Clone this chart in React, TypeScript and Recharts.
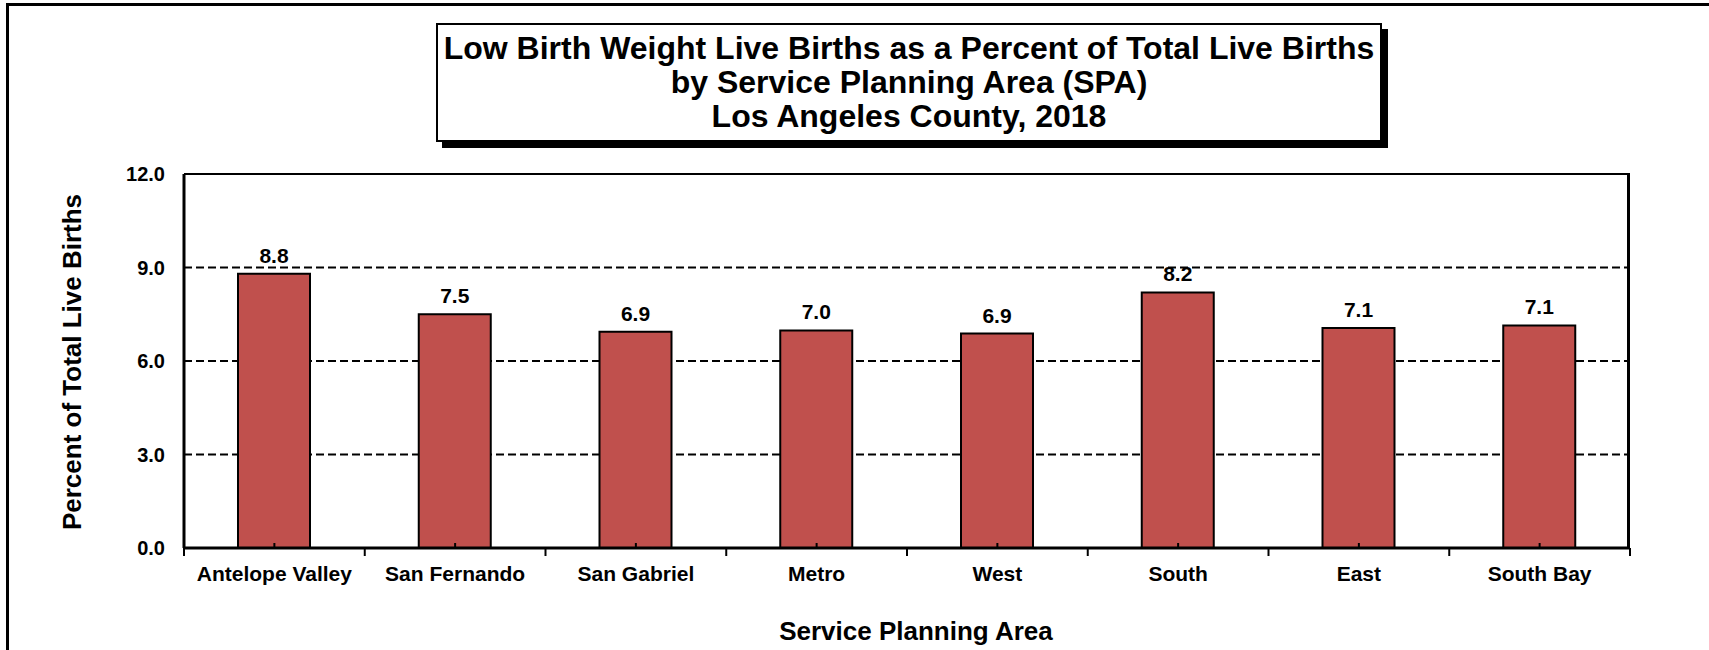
import { BarChart, Bar, XAxis, YAxis, CartesianGrid, LabelList } from "recharts"

const areas = [
  "Antelope Valley",
  "San Fernando",
  "San Gabriel",
  "Metro",
  "West",
  "South",
  "East",
  "South Bay",
]
const percents = [8.8, 7.5, 6.94, 6.98, 6.88, 8.2, 7.06, 7.14]
const yTicks = [0, 3, 6, 9, 12]

const titleLines = [
  "Low Birth Weight Live Births as a Percent of Total Live Births",
  "by Service Planning Area (SPA)",
  "Los Angeles County, 2018",
]

const data = areas.map((area, i) => ({ area, percent: percents[i] }))

const W = 1709
const H = 650
const PLOT = { left: 184, top: 174, right: 1630, bottom: 548 }
const BAND = (PLOT.right - PLOT.left) / areas.length
const FONT = "'Liberation Sans', Arial, sans-serif"

function AreaTick({ x, y, payload, index }: any) {
  const half = BAND / 2
  return (
    <g>
      <line x1={x} x2={x} y1={y} y2={y - 5} stroke="#000" strokeWidth={2} />
      <line x1={x - half} x2={x - half} y1={y} y2={y + 8} stroke="#000" strokeWidth={2} />
      {index === areas.length - 1 && (
        <line x1={x + half} x2={x + half} y1={y} y2={y + 8} stroke="#000" strokeWidth={2} />
      )}
      <text
        x={x}
        y={y + 33}
        textAnchor="middle"
        fill="#000"
        fontFamily={FONT}
        fontWeight="bold"
        fontSize={21}
      >
        {payload.value}
      </text>
    </g>
  )
}

export default function App() {
  return (
    <div
      style={{
        position: "relative",
        width: W,
        height: H,
        overflow: "hidden",
        background: "#fff",
        fontFamily: FONT,
      }}
    >
      <style>{"html,body{margin:0;padding:0;overflow:hidden;background:#fff}"}</style>

      {/* outer frame: top and left edges */}
      <div style={{ position: "absolute", left: 6, top: 3, width: W - 6, height: 3, background: "#000" }} />
      <div style={{ position: "absolute", left: 6, top: 3, width: 3, height: H - 3, background: "#000" }} />

      <BarChart
        width={W}
        height={H}
        data={data}
        margin={{ top: PLOT.top, right: W - PLOT.right, bottom: H - PLOT.bottom - 40, left: PLOT.left - 60 }}
        barSize={72}
      >
        <CartesianGrid vertical={false} stroke="#000" strokeWidth={2} strokeDasharray="8 4" />
        <YAxis
          width={60}
          domain={[0, 12]}
          ticks={yTicks}
          interval={0}
          tickFormatter={(v: number) => v.toFixed(1)}
          axisLine={{ stroke: "#000", strokeWidth: 3 }}
          tickLine={false}
          tickSize={0}
          tickMargin={19}
          tick={{ fill: "#000", fontSize: 20, fontWeight: "bold", fontFamily: FONT }}
        />
        <Bar dataKey="percent" fill="#C0504D" stroke="#000" strokeWidth={2} isAnimationActive={false}>
          <LabelList
            dataKey="percent"
            position="top"
            offset={11}
            formatter={(v: number) => v.toFixed(1)}
            fill="#000"
            fontSize={21}
            fontWeight="bold"
            fontFamily={FONT}
          />
        </Bar>
        <XAxis
          dataKey="area"
          height={40}
          interval={0}
          axisLine={{ stroke: "#000", strokeWidth: 3 }}
          tickLine={false}
          tickSize={0}
          tickMargin={0}
          tick={<AreaTick />}
        />
      </BarChart>

      {/* plot area frame, top and right */}
      <div
        style={{
          position: "absolute",
          left: PLOT.left,
          top: PLOT.top - 1,
          width: PLOT.right - PLOT.left,
          height: PLOT.bottom - PLOT.top,
          borderTop: "2px solid #000",
          borderRight: "3px solid #000",
          boxSizing: "border-box",
          pointerEvents: "none",
        }}
      />

      {/* title box */}
      <div
        style={{
          position: "absolute",
          left: 436,
          top: 23,
          width: 946,
          height: 119,
          boxSizing: "border-box",
          border: "2px solid #000",
          boxShadow: "6px 6px 0 #000",
          background: "#fff",
          paddingTop: 6,
          textAlign: "center",
          fontWeight: "bold",
          fontSize: 32,
          lineHeight: "34px",
          whiteSpace: "nowrap",
        }}
      >
        {titleLines.map((line) => (
          <div key={line}>{line}</div>
        ))}
      </div>

      <div
        style={{
          position: "absolute",
          left: 72,
          top: 362,
          transform: "translate(-50%, -50%) rotate(-90deg)",
          whiteSpace: "nowrap",
          fontWeight: "bold",
          fontSize: 26,
          lineHeight: "26px",
        }}
      >
        Percent of Total Live Births
      </div>

      <div
        style={{
          position: "absolute",
          left: 916,
          top: 618,
          transform: "translateX(-50%)",
          whiteSpace: "nowrap",
          fontWeight: "bold",
          fontSize: 26,
          lineHeight: "26px",
        }}
      >
        Service Planning Area
      </div>

      {/* keep the right margin clear */}
      <div style={{ position: "absolute", left: 1660, top: 6, width: W - 1660, height: H - 6, background: "#fff" }} />
    </div>
  )
}
